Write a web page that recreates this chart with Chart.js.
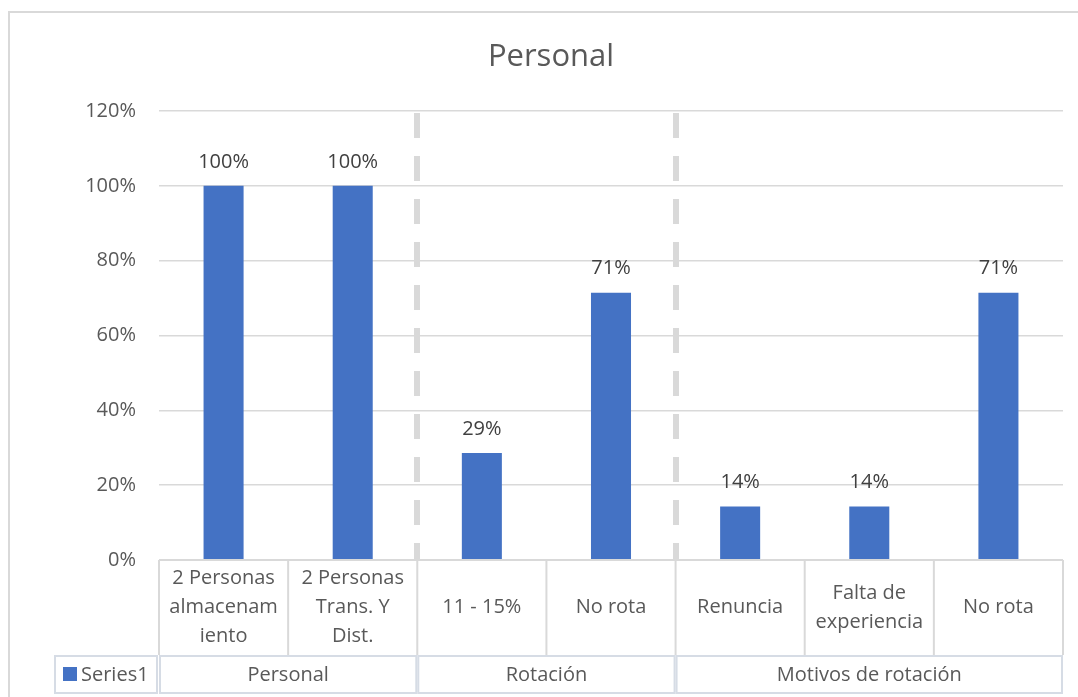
<!DOCTYPE html>
<html>
<head>
<meta charset="utf-8">
<script src="https://cdn.jsdelivr.net/npm/chart.js@4"></script>
<style>
  html, body { margin: 0; padding: 0; background: #fff; }
  #wrap { width: 1078px; height: 697px; }
</style>
</head>
<body>
<div id="wrap"><canvas id="chart" width="1078" height="697"></canvas></div>
<script>
// Data
const categories = [
  ['2 Personas', 'almacenam', 'iento'],
  ['2 Personas', 'Trans. Y', 'Dist.'],
  ['11 - 15%'],
  ['No rota'],
  ['Renuncia'],
  ['Falta de', 'experiencia'],
  ['No rota']
];
const groups = ['Personal', 'Rotación', 'Motivos de rotación'];
const groupSizes = [2, 2, 3];
const values = [1.0, 1.0, 0.2857, 0.7143, 0.1429, 0.1429, 0.7143];
const seriesName = 'Series1';
const chartTitle = 'Personal';
const yMax = 1.2;
const yStep = 0.2;

const FONT = "'Open Sans', sans-serif";
const BAR = '#4472c4';
const TEXT = '#595959';
const LINE = '#d9d9d9';

const pct = v => Math.round(v * 100) + '%';

// Excel-like extras: title, frame, dashed group separators, data labels, category table
const excelLook = {
  id: 'excelLook',
  beforeDatasetsDraw(chart) {
    const { ctx, chartArea: a } = chart;
    const x = chart.scales.x;
    ctx.save();
    ctx.strokeStyle = LINE;
    ctx.lineWidth = 6;
    ctx.setLineDash([25, 18]);
    let cum = 0;
    groupSizes.slice(0, -1).forEach(n => {
      cum += n;
      const px = Math.round(x.getPixelForValue(cum - 0.5));
      ctx.beginPath();
      ctx.moveTo(px, a.top + 2);
      ctx.lineTo(px, a.bottom);
      ctx.stroke();
    });
    ctx.restore();
  },
  afterDraw(chart) {
    const { ctx, chartArea: a } = chart;
    const x = chart.scales.x;
    ctx.save();

    // frame
    ctx.strokeStyle = LINE;
    ctx.lineWidth = 2;
    ctx.strokeRect(9, 12, 1200, 800);

    // title
    ctx.fillStyle = TEXT;
    ctx.font = '31px ' + FONT;
    ctx.textAlign = 'center';
    ctx.textBaseline = 'middle';
    ctx.fillText(chartTitle, 551, 57);

    // data labels
    ctx.font = '20px ' + FONT;
    ctx.fillStyle = '#404040';
    const meta = chart.getDatasetMeta(0);
    meta.data.forEach((bar, i) => {
      ctx.fillText(pct(values[i]), bar.x, bar.y - 24);
    });

    // category row
    const r1Top = a.bottom, r1Bot = 655, r2Top = 656, r2Bot = 693;
    const edge = i => x.getPixelForValue(i - 0.5);
    ctx.strokeStyle = LINE;
    ctx.lineWidth = 2;
    ctx.beginPath();
    ctx.moveTo(edge(0), r1Top); ctx.lineTo(edge(categories.length), r1Top);
    for (let i = 0; i <= categories.length; i++) {
      ctx.moveTo(edge(i), r1Top); ctx.lineTo(edge(i), r1Bot);
    }
    ctx.stroke();
    ctx.fillStyle = TEXT;
    const lh = 29;
    categories.forEach((lines, i) => {
      const cx = x.getPixelForValue(i);
      const cy = (r1Top + r1Bot) / 2;
      lines.forEach((t, j) => {
        ctx.fillText(t, cx, cy + (j - (lines.length - 1) / 2) * lh);
      });
    });

    // group row
    ctx.strokeStyle = '#d6dce5';
    let start = 0;
    groups.forEach((g, k) => {
      const x0 = edge(start), x1 = edge(start + groupSizes[k]);
      ctx.strokeRect(x0 + 1, r2Top, x1 - x0 - 2, r2Bot - r2Top);
      ctx.fillText(g, (x0 + x1) / 2, (r2Top + r2Bot) / 2 + 1);
      start += groupSizes[k];
    });

    // legend key cell
    ctx.strokeRect(55, r2Top, edge(0) - 57, r2Bot - r2Top);
    ctx.fillStyle = BAR;
    ctx.fillRect(63, 667, 14, 14);
    ctx.fillStyle = TEXT;
    ctx.textAlign = 'left';
    ctx.fillText(seriesName, 81, (r2Top + r2Bot) / 2 + 1);

    ctx.restore();
  }
};

new Chart(document.getElementById('chart'), {
  type: 'bar',
  data: {
    labels: categories,
    datasets: [{
      label: seriesName,
      data: values,
      backgroundColor: BAR,
      barPercentage: 0.31,
      categoryPercentage: 1
    }]
  },
  options: {
    responsive: false,
    animation: false,
    layout: { padding: { left: 9, right: 15, top: 111, bottom: 137 } },
    plugins: {
      legend: { display: false },
      title: { display: false },
      tooltip: { enabled: false }
    },
    scales: {
      x: { display: false, offset: true },
      y: {
        min: 0, max: yMax,
        afterFit: s => { s.width = 150; },
        border: { display: false },
        grid: { color: LINE, lineWidth: 1.5, drawTicks: false },
        ticks: {
          stepSize: yStep,
          padding: 23,
          color: TEXT,
          font: { family: FONT, size: 20 },
          callback: v => pct(v)
        }
      }
    }
  },
  plugins: [excelLook]
});
</script>
</body>
</html>
